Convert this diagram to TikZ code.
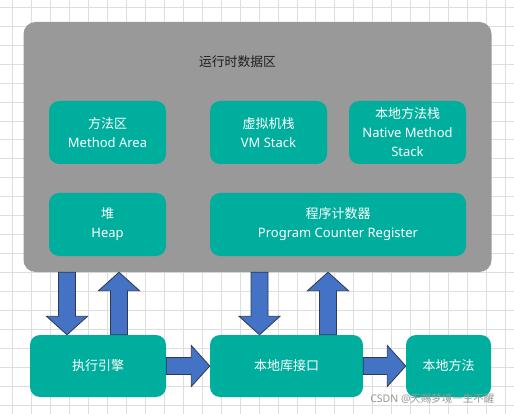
\documentclass[tikz,border=0pt]{standalone}
\usepackage{fontspec}
\setmainfont{Noto Sans}
\newfontfamily\cjk{Noto Sans CJK SC}
\usepackage{tikz}
\usetikzlibrary{calc}
\usepackage{xcolor}
\definecolor{gridc}{RGB}{222,222,222}
\definecolor{areac}{RGB}{153,153,153}
\definecolor{boxc}{RGB}{0,174,157}
\definecolor{arrc}{RGB}{68,114,196}
\definecolor{arredge}{RGB}{45,58,84}
\definecolor{titlec}{RGB}{30,30,30}
\definecolor{markc}{RGB}{150,150,150}
\tikzset{
  jgrid/.style={gridc,line width=0.9pt},
  jarea/.style={fill=areac,rounded corners=12pt,inner sep=0pt},
  jbox/.style={fill=boxc,rounded corners=10pt,inner sep=0pt,text=white,align=center,
               minimum height=63pt,font=\fontsize{13}{19}\selectfont},
  jarrow/.style={fill=arrc,draw=arredge,line width=0.8pt,line join=miter},
}
% block arrow from #1 to #2
\newcommand{\blkarrow}[2]{%
  \coordinate (hb) at ($(#2)!18.5pt!(#1)$);
  \draw[jarrow] ($(#1)!8.5pt!90:(#2)$) -- ($(hb)!8.5pt!90:(#2)$)
    -- ($(hb)!20.5pt!90:(#2)$) -- (#2) -- ($(hb)!20.5pt!-90:(#2)$)
    -- ($(hb)!8.5pt!-90:(#2)$) -- ($(#1)!8.5pt!-90:(#2)$) -- cycle;}

\begin{document}
\begin{tikzpicture}[x=1pt,y=-1pt]
  \useasboundingbox[fill=white] (0,0) rectangle (514,414);
  \foreach \i in {0,...,26} {\draw[jgrid] ({12.7+18.95*\i},0) -- ++(0,414);}
  \foreach \j in {0,...,21} {\draw[jgrid] (0,{7.3+18.95*\j}) -- ++(514,0);}

  \node[jarea,minimum width=468pt,minimum height=250pt] (area) at (257.5,147) {};
  \node[text=titlec,font=\fontsize{12.8}{15}\selectfont\cjk] (title) at (237.5,62) {运行时数据区};

  \node[jbox,minimum width=117pt] (method) at (107.5,132.5) {{\cjk 方法区}\\Method Area};
  \node[jbox,minimum width=117pt] (vms) at (268.5,132.5) {{\cjk 虚拟机栈}\\VM Stack};
  \node[jbox,minimum width=117pt] (nms) at (407.5,132.5) {{\cjk 本地方法栈}\\Native Method\\Stack};
  \node[jbox,minimum width=117pt] (heap) at (107.5,224.5) {{\cjk 堆}\\Heap};
  \node[jbox,minimum width=256pt] (pc) at (338,224.5) {{\cjk 程序计数器}\\Program Counter Register};

  \node[jbox,minimum width=136pt,minimum height=62pt] (exec) at (98,366) {\cjk 执行引擎};
  \node[jbox,minimum width=153pt,minimum height=62pt] (lib) at (286.5,366) {\cjk 本地库接口};
  \node[jbox,minimum width=85pt,minimum height=62pt] (native) at (448.5,366) {\cjk 本地方法};

  \foreach \n/\x in {c1/67,c2/119,c3/259.5,c4/328} {\coordinate (\n) at (\x,0);}
  \blkarrow{area.south -| c1}{exec.north -| c1}
  \blkarrow{exec.north -| c2}{area.south -| c2}
  \blkarrow{area.south -| c3}{lib.north -| c3}
  \blkarrow{lib.north -| c4}{area.south -| c4}
  \blkarrow{exec.east}{lib.west}
  \blkarrow{lib.east}{native.west}

  \node[text=markc,anchor=east,font=\fontsize{10.5}{12}\selectfont] (mark) at (498,399) {CSDN @{\cjk 天赐梦境一生不醒}};
\end{tikzpicture}
\end{document}
